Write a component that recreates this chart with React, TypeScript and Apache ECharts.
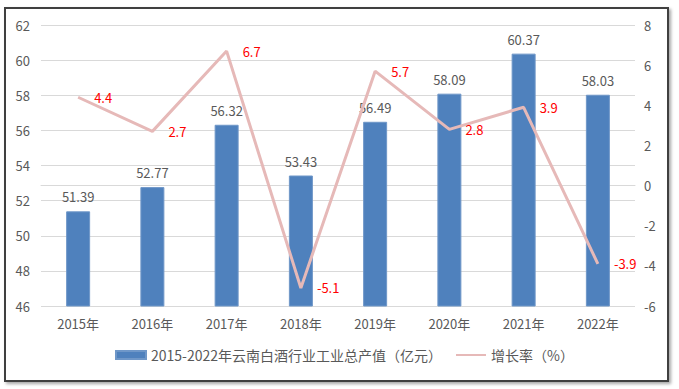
import React, { useEffect, useRef } from "react";
import * as echarts from "echarts";

const categories = ["2015年", "2016年", "2017年", "2018年", "2019年", "2020年", "2021年", "2022年"];
const outputValues = [51.39, 52.77, 56.32, 53.43, 56.49, 58.09, 60.37, 58.03];
const growthRates = [4.4, 2.7, 6.7, -5.1, 5.7, 2.8, 3.9, -3.9];
const barName = "2015-2022年云南白酒行业工业总产值（亿元）";
const lineName = "增长率（%）";

const FONT = "'Noto Sans CJK SC', 'Noto Sans', sans-serif";

export default function App() {
  const ref = useRef<HTMLDivElement>(null);
  useEffect(() => {
    if (!ref.current) return;
    const chart = echarts.init(ref.current, undefined, { renderer: "svg" });
    chart.setOption({
      animation: false,
      textStyle: { fontFamily: FONT },
      grid: { left: 41, right: 44, top: 25, bottom: 83, containLabel: false },
      legend: {
        bottom: 22,
        left: 110,
        itemWidth: 30,
        itemHeight: 8,
        itemGap: 13,
        textStyle: { color: "#595959", fontSize: 14, fontFamily: FONT },
        data: [{ name: barName, icon: "rect" }, { name: lineName }],
      },
      xAxis: {
        type: "category",
        data: categories,
        axisLine: { show: true, lineStyle: { color: "#d9d9d9", width: 1 } },
        axisTick: { show: false },
        axisLabel: { color: "#595959", fontSize: 13, margin: 11, fontFamily: FONT },
      },
      yAxis: [
        {
          type: "value",
          min: 46,
          max: 62,
          interval: 2,
          axisLine: { show: false },
          axisTick: { show: false },
          splitLine: { lineStyle: { color: "#d9d9d9", width: 1 } },
          axisLabel: { color: "#595959", fontSize: 13, margin: 11, fontFamily: FONT },
        },
        {
          type: "value",
          min: -6,
          max: 8,
          interval: 2,
          axisLine: { show: false },
          axisTick: { show: false },
          splitLine: { show: false },
          axisLabel: { color: "#595959", fontSize: 13, margin: 9, fontFamily: FONT },
        },
      ],
      series: [
        {
          name: barName,
          type: "bar",
          data: outputValues,
          barWidth: 24,
          itemStyle: { color: "#4f81bd", borderColor: "#6f97c8", borderWidth: 1 },
          label: {
            show: true,
            position: "top",
            distance: 8,
            color: "#595959",
            fontSize: 13,
            fontFamily: FONT,
          },
          z: 2,
        },
        {
          name: lineName,
          type: "line",
          yAxisIndex: 1,
          data: growthRates,
          symbol: "circle",
          symbolSize: 2,
          showSymbol: true,
          lineStyle: { color: "#e6b9b8", width: 3 },
          itemStyle: { color: "rgba(230,185,184,0)" },
          label: {
            show: true,
            position: "right",
            distance: 15,
            color: "#ff0000",
            fontSize: 13,
            fontFamily: FONT,
          },
          z: 3,
        },
      ],
    });
    return () => chart.dispose();
  }, []);

  return (
    <div style={{ position: "fixed", left: 0, top: 0, width: 679, height: 389, background: "#fff" }}>
      <div
        style={{
          position: "absolute",
          left: 4,
          top: 7,
          width: 661,
          height: 371,
          border: "2px solid #404040",
          boxShadow: "2px 2px 3px rgba(0,0,0,0.35)",
        }}
      />
      <div ref={ref} style={{ position: "absolute", left: 0, top: 0, width: 679, height: 389 }} />
    </div>
  );
}
